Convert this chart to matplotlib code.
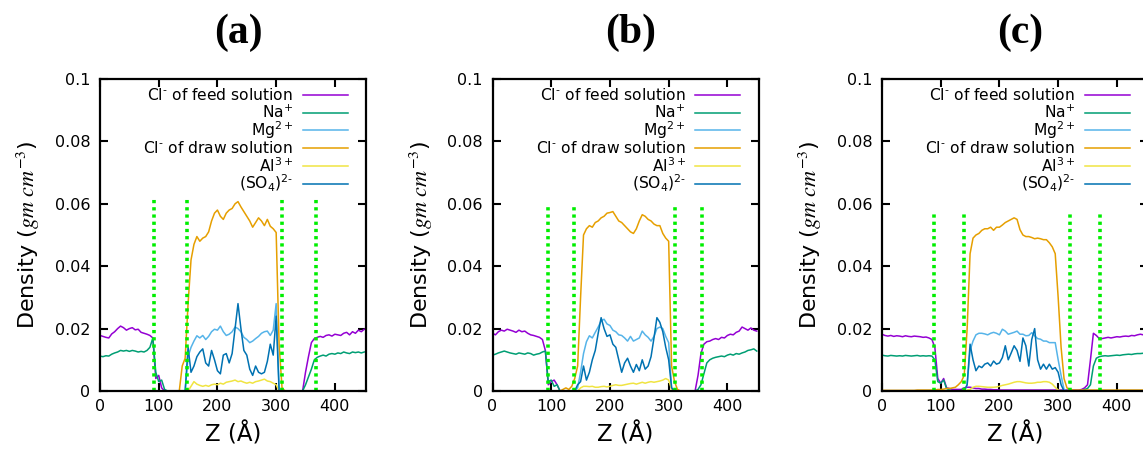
import numpy as np
import matplotlib
matplotlib.use("Agg")
import matplotlib.pyplot as plt
from matplotlib.lines import Line2D

# sample positions along Z (Angstrom), one reading every 5 A
z = np.arange(0, 455, 5)

# short hyphen (U+2010) as the charge sign, like the original key
labels = ["Cl$^{\u2010}$ of feed solution", "Na$^{+}$", "Mg$^{2+}$",
          "Cl$^{\u2010}$ of draw solution", "Al$^{3+}$", "(SO$_4$)$^{2\u2010}$"]
colors = ["#9400D3", "#009E73", "#56B4E9", "#E69F00", "#F0E442", "#0072B2"]
titles = ["(a)", "(b)", "(c)"]

Z0 = [0.0] * 10

# ---------------- panel (a) ----------------
cl_feed_a = ([0.0178, 0.0175, 0.0172, 0.0170, 0.0183, 0.0190, 0.0200, 0.0208, 0.0203, 0.0195,
              0.0200, 0.0203, 0.0196, 0.0198, 0.0188, 0.0185, 0.0182, 0.0178, 0.0170, 0.0040,
              0.0050, 0.0010, 0, 0, 0, 0, 0, 0, 0, 0]
             + Z0 + Z0 + Z0 +
             [0, 0, 0, 0, 0, 0, 0, 0, 0, 0,
              0.0060, 0.0110, 0.0155, 0.0168, 0.0172, 0.0175, 0.0172, 0.0178, 0.0180, 0.0176,
              0.0182, 0.0180, 0.0178, 0.0185, 0.0188, 0.0180, 0.0190, 0.0185, 0.0195, 0.0190,
              0.0198])
na_a = ([0.0112, 0.0110, 0.0113, 0.0112, 0.0118, 0.0122, 0.0125, 0.0130, 0.0128, 0.0130,
         0.0127, 0.0130, 0.0128, 0.0125, 0.0127, 0.0125, 0.0130, 0.0140, 0.0170, 0.0060,
         0.0030, 0.0035, 0.0005, 0, 0, 0, 0, 0, 0, 0]
        + Z0 + Z0 + Z0 + Z0 +
        [0.0020, 0.0045, 0.0070, 0.0100, 0.0108, 0.0112, 0.0115, 0.0112, 0.0118, 0.0120,
         0.0118, 0.0122, 0.0120, 0.0125, 0.0122, 0.0120, 0.0125, 0.0123, 0.0125, 0.0122,
         0.0125])
mg_a = (Z0 + Z0 + Z0 +
        [0.0110, 0.0140, 0.0160, 0.0177, 0.0170, 0.0178, 0.0165, 0.0175, 0.0190, 0.0198,
         0.0195, 0.0208, 0.0190, 0.0178, 0.0182, 0.0190, 0.0205, 0.0200, 0.0190, 0.0172,
         0.0165, 0.0155, 0.0160, 0.0168, 0.0175, 0.0185, 0.0190, 0.0192, 0.0178, 0.0195,
         0.0280, 0.0010, 0, 0, 0, 0, 0, 0, 0, 0]
        + Z0 + Z0 + [0.0])
cl_draw_a = (Z0 + Z0 +
             [0, 0, 0, 0, 0, 0, 0, 0, 0.0080, 0.0105,
              0.0280, 0.0420, 0.0470, 0.0495, 0.0480, 0.0490, 0.0495, 0.0510, 0.0545, 0.0570,
              0.0580, 0.0560, 0.0550, 0.0570, 0.0580, 0.0585, 0.0600, 0.0607, 0.0590, 0.0575,
              0.0560, 0.0545, 0.0525, 0.0540, 0.0555, 0.0545, 0.0530, 0.0550, 0.0528, 0.0520,
              0.0508, 0.0150, 0.0010, 0, 0, 0, 0, 0, 0, 0]
             + Z0 + Z0 + [0.0])
al_a = (Z0 + Z0 + Z0 +
        [0.0000, 0.0015, 0.0030, 0.0022, 0.0018, 0.0015, 0.0018, 0.0015, 0.0020, 0.0022,
         0.0020, 0.0025, 0.0022, 0.0028, 0.0030, 0.0032, 0.0035, 0.0030, 0.0032, 0.0028,
         0.0025, 0.0028, 0.0025, 0.0030, 0.0032, 0.0035, 0.0038, 0.0032, 0.0030, 0.0025,
         0.0020, 0, 0, 0, 0, 0, 0, 0, 0, 0]
        + Z0 + Z0 + [0.0])
so4_a = (Z0 + Z0 + Z0 +
         [0.0140, 0.0060, 0.0080, 0.0110, 0.0125, 0.0135, 0.0090, 0.0080, 0.0130, 0.0100,
          0.0065, 0.0055, 0.0115, 0.0120, 0.0090, 0.0120, 0.0200, 0.0280, 0.0200, 0.0130,
          0.0115, 0.0070, 0.0050, 0.0080, 0.0060, 0.0055, 0.0060, 0.0095, 0.0150, 0.0115,
          0.0240, 0, 0, 0, 0, 0, 0, 0, 0, 0]
         + Z0 + Z0 + [0.0])

# ---------------- panel (b) ----------------
cl_feed_b = ([0.0185, 0.0180, 0.0190, 0.0195, 0.0192, 0.0198, 0.0195, 0.0192, 0.0188, 0.0195,
              0.0190, 0.0192, 0.0185, 0.0180, 0.0178, 0.0175, 0.0172, 0.0165, 0.0130, 0.0020,
              0.0030, 0.0035, 0.0020, 0, 0, 0, 0, 0, 0, 0]
             + Z0 + Z0 + Z0 + Z0 +
             [0.0050, 0.0120, 0.0150, 0.0158, 0.0160, 0.0165, 0.0168, 0.0165, 0.0172, 0.0170,
              0.0178, 0.0182, 0.0180, 0.0188, 0.0192, 0.0205, 0.0200, 0.0195, 0.0202, 0.0195,
              0.0192])
na_b = ([0.0115, 0.0118, 0.0122, 0.0125, 0.0128, 0.0125, 0.0122, 0.0120, 0.0118, 0.0122,
         0.0120, 0.0118, 0.0122, 0.0120, 0.0115, 0.0118, 0.0120, 0.0125, 0.0128, 0.0030,
         0.0035, 0.0015, 0.0020, 0, 0, 0, 0, 0, 0, 0]
        + Z0 + Z0 + Z0 + Z0 +
        [0.0005, 0.0020, 0.0055, 0.0090, 0.0100, 0.0105, 0.0108, 0.0110, 0.0112, 0.0110,
         0.0115, 0.0118, 0.0115, 0.0120, 0.0118, 0.0122, 0.0125, 0.0130, 0.0132, 0.0135,
         0.0128])
mg_b = (Z0 + Z0 +
        [0, 0, 0, 0, 0, 0, 0, 0, 0, 0.0010,
         0.0060, 0.0120, 0.0158, 0.0177, 0.0170, 0.0188, 0.0205, 0.0225, 0.0230, 0.0215,
         0.0210, 0.0195, 0.0190, 0.0180, 0.0178, 0.0170, 0.0160, 0.0175, 0.0160, 0.0165,
         0.0170, 0.0192, 0.0180, 0.0172, 0.0160, 0.0175, 0.0200, 0.0205, 0.0200, 0.0175,
         0.0155, 0.0010, 0, 0, 0, 0, 0, 0, 0, 0]
        + Z0 + Z0 + [0.0])
cl_draw_b = (Z0 + Z0 +
             [0, 0, 0, 0, 0.0005, 0.0010, 0.0005, 0.0015, 0.0040, 0.0080,
              0.0300, 0.0500, 0.0520, 0.0530, 0.0525, 0.0540, 0.0545, 0.0555, 0.0560, 0.0570,
              0.0572, 0.0575, 0.0560, 0.0545, 0.0540, 0.0530, 0.0520, 0.0510, 0.0505, 0.0520,
              0.0545, 0.0565, 0.0560, 0.0550, 0.0545, 0.0535, 0.0530, 0.0530, 0.0505, 0.0490,
              0.0480, 0.0080, 0.0030, 0.0005, 0, 0, 0, 0, 0, 0]
             + Z0 + Z0 + [0.0])
al_b = (Z0 + Z0 + Z0 +
        [0.0010, 0.0015, 0.0015, 0.0014, 0.0015, 0.0012, 0.0012, 0.0014, 0.0015, 0.0013,
         0.0015, 0.0018, 0.0020, 0.0018, 0.0018, 0.0020, 0.0022, 0.0024, 0.0025, 0.0022,
         0.0025, 0.0028, 0.0025, 0.0028, 0.0030, 0.0028, 0.0030, 0.0032, 0.0035, 0.0040,
         0.0035, 0.0005, 0, 0, 0, 0, 0, 0, 0, 0]
        + Z0 + Z0 + [0.0])
so4_b = (Z0 + Z0 +
         [0, 0, 0, 0, 0, 0, 0, 0, 0, 0.0020,
          0.0030, 0.0080, 0.0035, 0.0060, 0.0100, 0.0130, 0.0185, 0.0235, 0.0200, 0.0175,
          0.0180, 0.0150, 0.0140, 0.0100, 0.0060, 0.0090, 0.0105, 0.0080, 0.0060, 0.0085,
          0.0065, 0.0100, 0.0070, 0.0080, 0.0110, 0.0170, 0.0235, 0.0220, 0.0190, 0.0140,
          0.0100, 0.0010, 0, 0, 0, 0, 0, 0, 0, 0]
         + Z0 + Z0 + [0.0])

# ---------------- panel (c) ----------------
cl_feed_c = [0.0182, 0.0178, 0.0176, 0.0178, 0.0175, 0.0177, 0.0176, 0.0174, 0.0177, 0.0175,
             0.0174, 0.0176, 0.0175, 0.0174, 0.0172, 0.0173, 0.0170, 0.0165, 0.0140, 0.0040,
             0.0025, 0.0040, 0.0010, 0.0008, 0.0005, 0.0005, 0.0005, 0.0005, 0.0010, 0.0012,
             0.0012, 0.0010, 0.0008, 0.0008, 0.0006, 0.0006, 0.0005, 0.0005, 0.0004, 0.0004,
             0.0003, 0.0003, 0.0003, 0.0003, 0.0003, 0.0003, 0.0003, 0.0003, 0.0003, 0.0003,
             0.0003, 0.0003, 0.0003, 0.0003, 0.0003, 0.0003, 0.0003, 0.0003, 0.0003, 0.0003,
             0.0003, 0.0003, 0.0003, 0.0003, 0.0003, 0.0003, 0.0003, 0.0003, 0.0005, 0.0010,
             0.0020, 0.0100, 0.0185, 0.0178, 0.0168, 0.0168, 0.0170, 0.0172, 0.0170, 0.0172,
             0.0174, 0.0173, 0.0175, 0.0176, 0.0175, 0.0178, 0.0177, 0.0180, 0.0182, 0.0180,
             0.0182]
na_c = ([0.0115, 0.0113, 0.0112, 0.0114, 0.0113, 0.0112, 0.0113, 0.0112, 0.0114, 0.0113,
         0.0112, 0.0113, 0.0114, 0.0112, 0.0113, 0.0112, 0.0113, 0.0112, 0.0100, 0.0030,
         0.0025, 0.0035, 0.0008, 0.0003, 0, 0, 0, 0, 0, 0]
        + Z0 + Z0 + Z0 +
        [0, 0, 0, 0, 0, 0, 0, 0, 0, 0.0005,
         0.0008, 0.0020, 0.0080, 0.0105, 0.0110, 0.0112, 0.0113, 0.0112, 0.0113, 0.0114,
         0.0115, 0.0114, 0.0116, 0.0117, 0.0118, 0.0117, 0.0119, 0.0120, 0.0120, 0.0121,
         0.0122])
mg_c = (Z0 + Z0 +
        [0, 0, 0, 0, 0, 0, 0, 0, 0, 0.0020,
         0.0130, 0.0160, 0.0180, 0.0185, 0.0185, 0.0183, 0.0180, 0.0185, 0.0188, 0.0185,
         0.0180, 0.0198, 0.0192, 0.0182, 0.0185, 0.0188, 0.0192, 0.0182, 0.0182, 0.0177,
         0.0178, 0.0187, 0.0177, 0.0168, 0.0166, 0.0160, 0.0160, 0.0155, 0.0155, 0.0155,
         0.0100, 0.0050, 0.0005, 0, 0, 0, 0, 0, 0, 0]
        + Z0 + Z0 + [0.0])
cl_draw_c = [0.0002, 0.0002, 0.0002, 0.0002, 0.0002, 0.0002, 0.0002, 0.0002, 0.0002, 0.0002,
             0.0002, 0.0002, 0.0003, 0.0003, 0.0003, 0.0003, 0.0003, 0.0003, 0.0003, 0.0005,
             0.0005, 0.0006, 0.0008, 0.0008, 0.0010, 0.0012, 0.0020, 0.0030, 0.0050, 0.0200,
             0.0440, 0.0490, 0.0500, 0.0505, 0.0515, 0.0520, 0.0520, 0.0525, 0.0515, 0.0525,
             0.0525, 0.0532, 0.0540, 0.0545, 0.0550, 0.0555, 0.0550, 0.0517, 0.0500, 0.0495,
             0.0495, 0.0492, 0.0488, 0.0490, 0.0488, 0.0485, 0.0485, 0.0475, 0.0462, 0.0440,
             0.0300, 0.0140, 0.0040, 0.0010, 0.0005, 0.0003, 0.0003, 0.0003, 0.0003, 0.0003,
             0.0003, 0.0003, 0.0003, 0.0003, 0.0003, 0.0003, 0.0003, 0.0003, 0.0003, 0.0003,
             0.0003, 0.0003, 0.0003, 0.0003, 0.0003, 0.0003, 0.0003, 0.0003, 0.0003, 0.0003,
             0.0003]
al_c = (Z0 + Z0 +
        [0, 0, 0, 0, 0, 0, 0, 0, 0, 0.0003,
         0.0005, 0.0012, 0.0015, 0.0015, 0.0014, 0.0013, 0.0012, 0.0012, 0.0012, 0.0013,
         0.0015, 0.0018, 0.0020, 0.0022, 0.0025, 0.0028, 0.0030, 0.0030, 0.0028, 0.0026,
         0.0025, 0.0025, 0.0026, 0.0028, 0.0028, 0.0030, 0.0030, 0.0028, 0.0022, 0.0012,
         0.0003, 0, 0, 0, 0, 0, 0, 0, 0, 0]
        + Z0 + Z0 + [0.0])
so4_c = (Z0 + Z0 +
         [0, 0, 0, 0, 0, 0, 0, 0, 0, 0.0020,
          0.0150, 0.0100, 0.0065, 0.0080, 0.0075, 0.0086, 0.0090, 0.0080, 0.0096, 0.0086,
          0.0090, 0.0107, 0.0145, 0.0100, 0.0122, 0.0145, 0.0130, 0.0095, 0.0170, 0.0145,
          0.0080, 0.0165, 0.0200, 0.0100, 0.0070, 0.0086, 0.0070, 0.0086, 0.0070, 0.0075,
          0.0060, 0.0020, 0, 0, 0, 0, 0, 0, 0, 0]
         + Z0 + Z0 + [0.0])

# membrane boundaries (green dotted) and their height
walls_a, wall_top_a = [92.5, 148, 310, 367], 0.0616
walls_b, wall_top_b = [94.6, 139, 311.6, 356], 0.0600
walls_c, wall_top_c = [88, 140, 320, 372], 0.0575

panels = [
    ([cl_feed_a, na_a, mg_a, cl_draw_a, al_a, so4_a], walls_a, wall_top_a),
    ([cl_feed_b, na_b, mg_b, cl_draw_b, al_b, so4_b], walls_b, wall_top_b),
    ([cl_feed_c, na_c, mg_c, cl_draw_c, al_c, so4_c], walls_c, wall_top_c),
]

W, H = 1143, 450
fig = plt.figure(figsize=(W / 100, H / 100), dpi=100)
lefts = [100, 492.5, 882]
ax_w, bot, top = 266, 391, 79

for k, (series, walls, wtop) in enumerate(panels):
    ax = fig.add_axes([lefts[k] / W, (H - bot) / H, ax_w / W, (bot - top) / H])
    for y, c in zip(series, colors):
        ax.plot(z, y, color=c, lw=1.1, solid_joinstyle="round")
    for w in walls:
        ax.plot([w, w], [0, wtop], color="#00EE00", lw=2.6,
                linestyle=(0, (0.9, 1.1)), zorder=2.2)

    ax.set_xlim(0, 453)
    ax.set_ylim(0, 0.1)
    ax.set_xticks([0, 100, 200, 300, 400])
    ax.set_yticks([0, 0.02, 0.04, 0.06, 0.08, 0.1])
    ax.set_yticklabels(["0", "0.02", "0.04", "0.06", "0.08", "0.1"])
    ax.tick_params(direction="in", top=True, right=True, length=6, width=1.5,
                   labelsize=11.5, colors="black")
    ax.tick_params(axis="y", pad=7)
    ax.tick_params(axis="x", pad=6)
    for s in ax.spines.values():
        s.set_linewidth(1.6)

    ax.set_xlabel("Z (Å)", fontsize=16.5, labelpad=6)
    ax.set_ylabel(r"Density ($gm\ cm^{\mathit{-3}}$)", fontsize=16, labelpad=9,
                  math_fontfamily="stix")

    # gnuplot-style key: right-aligned text, sample line on the right
    for i, (lab, c) in enumerate(zip(labels, colors)):
        yy = 0.949 - i * 0.057
        ax.text(0.726, yy, lab, transform=ax.transAxes, ha="right", va="center",
                fontsize=11.2)
        ax.add_line(Line2D([0.763, 0.932], [yy, yy], transform=ax.transAxes,
                           color=c, lw=1.1))

    fig.text((lefts[k] + 138) / W, 1 - 33 / H, titles[k], ha="center", va="center",
             fontsize=30, fontweight="bold", family="Liberation Serif")

fig.savefig("out.png", dpi=100)
